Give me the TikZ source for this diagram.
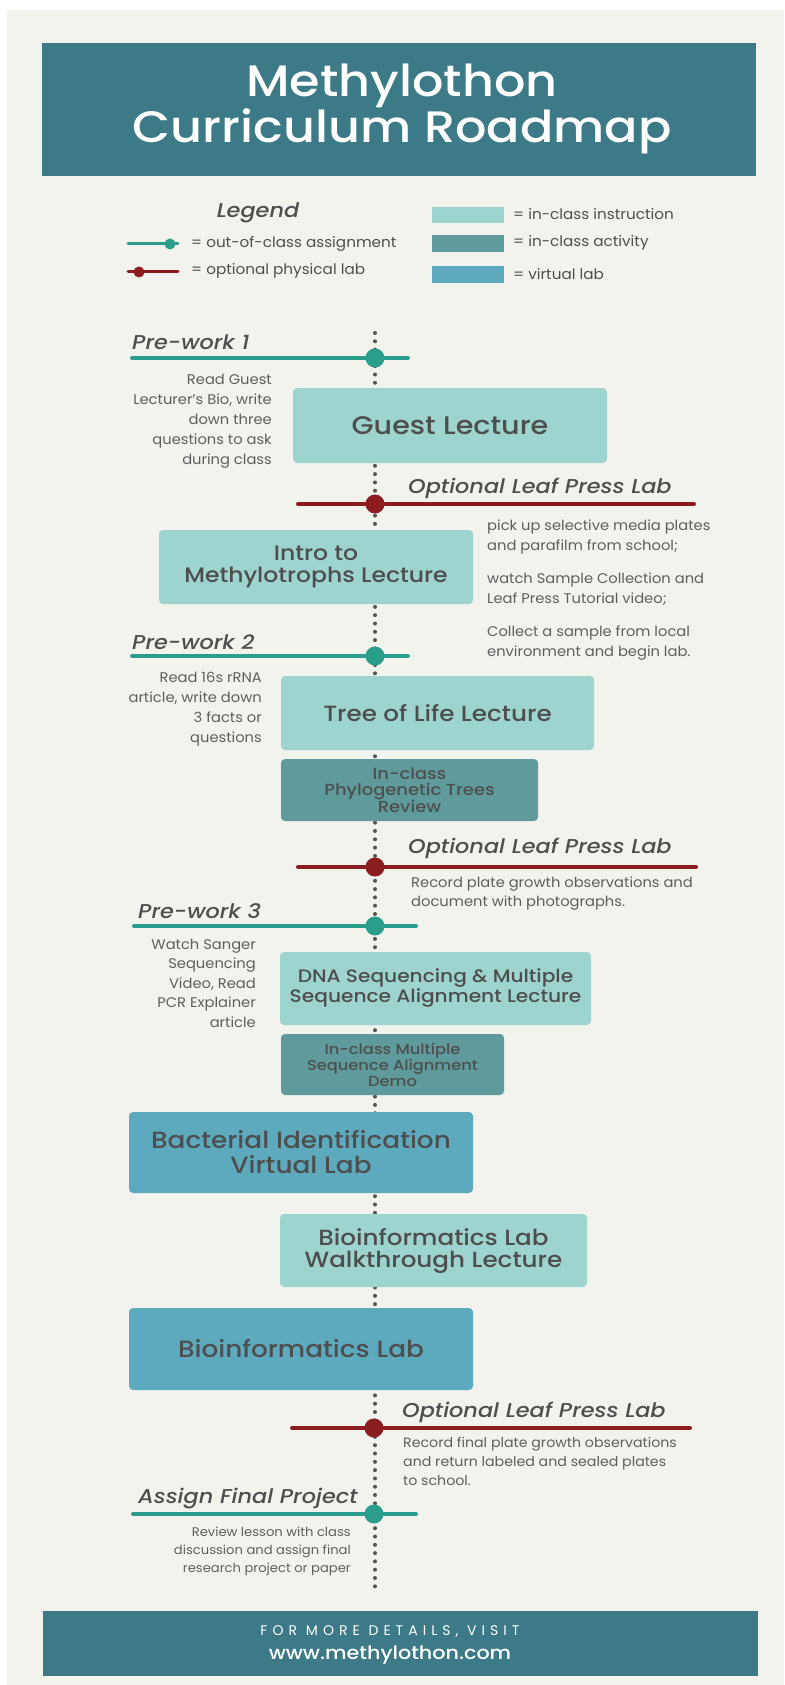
\documentclass[tikz,border=0pt]{standalone}
\usepackage{fontspec}
\setmainfont{Poppins}[FakeStretch=1.05]
\newfontfamily\medfont{Poppins Medium}[ItalicFont={Poppins Medium Italic}, FakeStretch=1.12]
\newfontfamily\spacedfont{Poppins}[LetterSpace=36]
\definecolor{bgc}{HTML}{F3F3EE}
\definecolor{titlebg}{HTML}{3B7A86}
\definecolor{lightc}{HTML}{9DD4CD}
\definecolor{midc}{HTML}{5F9B9C}
\definecolor{virtc}{HTML}{5DAABE}
\definecolor{tealc}{HTML}{2A9D8C}
\definecolor{redc}{HTML}{8C1D1F}
\definecolor{boxtext}{HTML}{4E4E4E}
\definecolor{descc}{HTML}{5E5E5E}
\definecolor{spinec}{HTML}{555555}
\tikzset{
  boxbase/.style={rounded corners=4pt, inner sep=0pt, align=center, text=boxtext, font=\medfont},
  lightbox/.style={boxbase, fill=lightc},
  midbox/.style={boxbase, fill=midc},
  virtbox/.style={boxbase, fill=virtc},
  heading/.style={inner sep=0pt, text=boxtext, font=\medfont\itshape\fontsize{20}{22}\selectfont},
  descr/.style={inner sep=0pt, text=descc, font=\fontsize{14}{20}\selectfont},
  tealline/.style={draw=tealc, line width=4pt, line cap=round},
  redline/.style={draw=redc, line width=4pt, line cap=round},
  tealdot/.style={fill=tealc},
  reddot/.style={fill=redc},
  spineline/.style={draw=spinec, line width=4pt, line cap=round, dash pattern=on 0pt off 8.3pt},
  legtext/.style={inner sep=0pt, anchor=west, text=boxtext, font=\fontsize{14.5}{16}\selectfont},
}
\begin{document}
\begin{tikzpicture}[x=1pt,y=-1pt]
\useasboundingbox (0,0) rectangle (784,1685);
\fill[white] (0,0) rectangle (784,1685);
\fill[bgc] (7,10) rectangle (784,1685);
% title
\fill[titlebg] (42,43) rectangle (756,176);
\node[text=white, font=\medfont\fontsize{44}{43}\selectfont, align=center, inner sep=0pt] (title) at (402,109) {Methylothon\\Curriculum Roadmap};
% legend
\node[heading] (leg) at (258,213) {Legend};
\coordinate (lt1) at (128,244); \coordinate (lt2) at (178,244);
\draw[tealline, line width=3pt] (lt1) -- (lt2);
\fill[tealdot] (170,244) circle (5.5);
\node[legtext] (lgt) at (191,244) {= out-of-class assignment};
\coordinate (lr1) at (128,272); \coordinate (lr2) at (178,272);
\draw[redline, line width=3pt] (lr1) -- (lr2);
\fill[reddot] (139,272) circle (5.5);
\node[legtext] (lgr) at (191,271) {= optional physical lab};
\fill[lightc] (432,207) rectangle (504,223);
\fill[midc] (432,235) rectangle (504,252);
\fill[virtc] (432,266) rectangle (504,283);
\node[legtext] (lg1) at (513,214) {= in-class instruction};
\node[legtext] (lg2) at (513,243) {= in-class activity};
\node[legtext] (lg3) at (513,274) {= virtual lab};
% spine
\coordinate (spinetop) at (375,333);
\coordinate (spinebot) at (375,1589);
\draw[spineline] (spinetop) -- (spinebot);
% pre-work 1
\node[heading, anchor=west] (pw1) at (132,342) {Pre-work 1};
\coordinate (pw1a) at (132,358); \coordinate (pw1b) at (408,358);
\draw[tealline] (pw1a) -- (pw1b);
\fill[tealdot] (375,358) circle (9.5);
\node[descr, anchor=base east, align=right] (pw1d) at (272,464) {Read Guest\\Lecturer's Bio, write\\down three\\questions to ask\\during class};
% boxes
\node[lightbox, minimum width=314, minimum height=75, font=\medfont\fontsize{25.5}{27}\selectfont] (guest) at (450,425.5) {Guest Lecture};
% optional 1
\node[heading, anchor=west] (ol1) at (408,488) {Optional Leaf Press Lab};
\coordinate (ol1a) at (298,504); \coordinate (ol1b) at (694,504);
\draw[redline] (ol1a) -- (ol1b);
\fill[reddot] (375,504) circle (9.5);
\node[lightbox, minimum width=314, minimum height=74, font=\medfont\fontsize{21}{22}\selectfont] (intro) at (316,567) {Intro to\\Methylotrophs Lecture};
\node[descr, anchor=base west, align=left] (ol1d1) at (487,550) {pick up selective media plates\\and parafilm from school;};
\node[descr, anchor=base west, align=left] (ol1d2) at (487,603) {watch Sample Collection and\\Leaf Press Tutorial video;};
\node[descr, anchor=base west, align=left] (ol1d3) at (487,656) {Collect a sample from local\\environment and begin lab.};
% pre-work 2
\node[heading, anchor=west] (pw2) at (132,642) {Pre-work 2};
\coordinate (pw2a) at (132,656); \coordinate (pw2b) at (408,656);
\draw[tealline] (pw2a) -- (pw2b);
\fill[tealdot] (375,656) circle (9.5);
\node[descr, anchor=base east, align=right] (pw2d) at (262,742) {Read 16s rRNA\\article, write down\\3 facts or\\questions};
\node[lightbox, minimum width=313, minimum height=74, font=\medfont\fontsize{22}{24}\selectfont] (tree) at (437.5,713) {Tree of Life Lecture};
\node[midbox, minimum width=257, minimum height=62, font=\medfont\fontsize{16}{16}\selectfont] (phylo) at (409.5,790) {In-class\\Phylogenetic Trees\\Review};
% optional 2
\node[heading, anchor=west] (ol2) at (408,848) {Optional Leaf Press Lab};
\coordinate (ol2a) at (298,867); \coordinate (ol2b) at (696,867);
\draw[redline] (ol2a) -- (ol2b);
\fill[reddot] (375,867) circle (9.5);
\node[descr, anchor=base west, align=left, font=\fontsize{14}{19}\selectfont] (ol2d) at (411,906) {Record plate growth observations and\\document with photographs.};
% pre-work 3
\node[heading, anchor=west] (pw3) at (138,911) {Pre-work 3};
\coordinate (pw3a) at (134,926); \coordinate (pw3b) at (416,926);
\draw[tealline] (pw3a) -- (pw3b);
\fill[tealdot] (375,926) circle (9.5);
\node[descr, anchor=base east, align=right, font=\fontsize{14}{19.5}\selectfont] (pw3d) at (256,1027) {Watch Sanger\\Sequencing\\Video, Read\\PCR Explainer\\article};
\node[lightbox, minimum width=311, minimum height=73, font=\medfont\fontsize{18}{20}\selectfont] (dna) at (435.5,988.5) {DNA Sequencing \& Multiple\\Sequence Alignment Lecture};
\node[midbox, minimum width=223, minimum height=61, font=\medfont\fontsize{14.5}{16}\selectfont] (demo) at (392.5,1064.5) {In-class Multiple\\Sequence Alignment\\Demo};
\node[virtbox, minimum width=344, minimum height=81, font=\medfont\fontsize{23.5}{25}\selectfont] (bact) at (301,1152.5) {Bacterial Identification\\Virtual Lab};
\node[lightbox, minimum width=307, minimum height=73, font=\medfont\fontsize{22}{22}\selectfont] (walk) at (433.5,1250.5) {Bioinformatics Lab\\Walkthrough Lecture};
\node[virtbox, minimum width=344, minimum height=82, font=\medfont\fontsize{23.5}{26}\selectfont] (bio) at (301,1349) {Bioinformatics Lab};
% optional 3
\node[heading, anchor=west] (ol3) at (402,1412) {Optional Leaf Press Lab};
\coordinate (ol3a) at (292,1428); \coordinate (ol3b) at (690,1428);
\draw[redline] (ol3a) -- (ol3b);
\fill[reddot] (374,1428) circle (9.5);
\node[descr, anchor=base west, align=left, font=\fontsize{13.5}{19}\selectfont] (ol3d) at (403,1485) {Record final plate growth observations\\and return labeled and sealed plates\\to school.};
% final project
\node[heading, anchor=west] (afp) at (138,1499) {Assign Final Project};
\coordinate (afpa) at (133,1514); \coordinate (afpb) at (416,1514);
\draw[tealline] (afpa) -- (afpb);
\fill[tealdot] (374,1514) circle (9.5);
\node[descr, anchor=base east, align=right, font=\fontsize{12.5}{18}\selectfont] (afpd) at (351,1572) {Review lesson with class\\discussion and assign final\\research project or paper};
% footer
\fill[titlebg] (43,1611) rectangle (758,1676);
\node[text=white, inner sep=0pt, font=\spacedfont\fontsize{14}{16}\selectfont] (foot1) at (390,1632) {FOR MORE DETAILS, VISIT};
\node[text=white, inner sep=0pt, font=\medfont\fontsize{18.5}{20}\selectfont] (foot2) at (390,1655) {www.methylothon.com};
\end{tikzpicture}
\end{document}
